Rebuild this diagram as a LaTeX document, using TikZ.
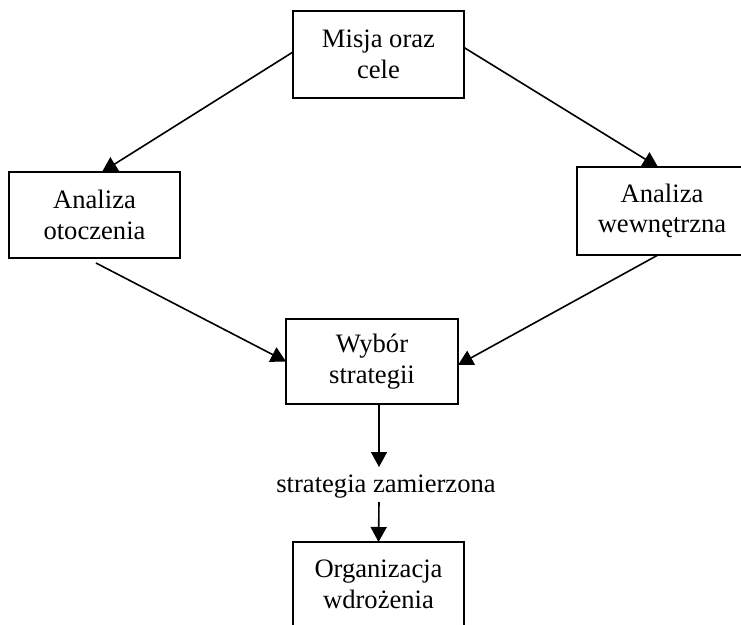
\documentclass[tikz,border=0pt]{standalone}
\usepackage{fontspec}
\setmainfont{Liberation Serif}
\usetikzlibrary{arrows.meta}
\begin{document}
\begin{tikzpicture}[x=1pt,y=-1pt,
  box/.style={draw, line width=2.2pt, align=center, inner sep=0pt, outer sep=0pt,
    font=\fontsize{26.6}{30.7}\selectfont},
  arr/.style={line width=1.6pt, -{Triangle[length=15pt,width=16pt]}},
  lbl/.style={font=\fontsize{26.6}{30.7}\selectfont, inner sep=0pt}]
\useasboundingbox (0,0) rectangle (741,624);
\node[box, minimum width=171pt, minimum height=87pt] (misja) at (378.5,54.5) {Misja oraz\\cele};
\node[box, minimum width=171pt, minimum height=86pt] (otocz) at (94.5,215) {Analiza\\otoczenia};
\node[box, minimum width=170pt, minimum height=88pt] (wewn) at (662,211) {Analiza\\wewnętrzna};
\node[box, minimum width=172pt, minimum height=85pt] (wybor) at (372,361.5) {Wybór\\strategii};
\node[box, minimum width=171pt, minimum height=84pt] (org) at (378.5,584) {Organizacja\\wdrożenia};
\node[lbl, anchor=base] (sz) at (386,492) {strategia zamierzona};
\coordinate (t1) at (379,467);
\coordinate (t2) at (379,502);
\draw[arr] ([yshift=2.5pt]misja.west) -- ([xshift=7.5pt]otocz.north);
\draw[arr] ([yshift=7pt]misja.east) -- ([xshift=-4pt]wewn.north);
\draw[arr] ([xshift=1.5pt,yshift=-5pt]otocz.south) -- (wybor.west);
\draw[arr] ([xshift=-4pt]wewn.south) -- ([yshift=-3.5pt]wybor.east);
\draw[arr] ([xshift=7pt]wybor.south) -- (t1);
\draw[arr] (t2) -- (org.north);
\end{tikzpicture}
\end{document}
